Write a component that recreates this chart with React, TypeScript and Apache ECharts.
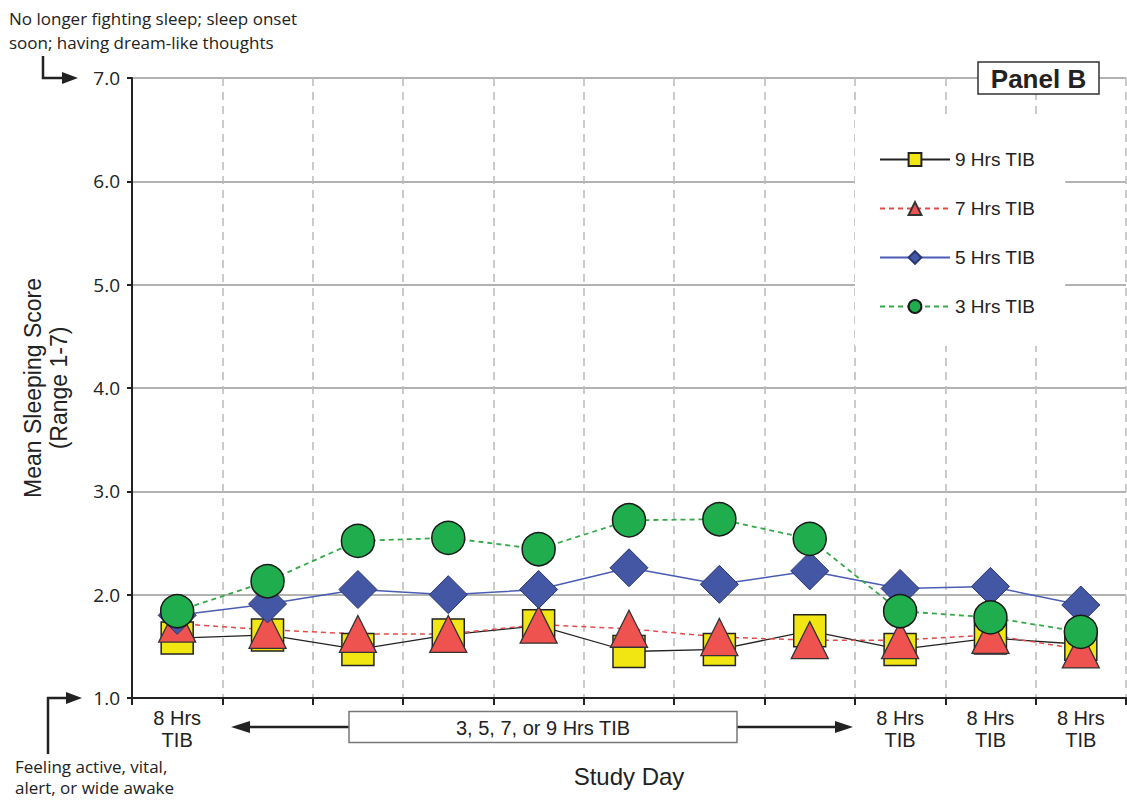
import React, { useEffect, useRef } from "react";
import * as echarts from "echarts";

const categories = ["8 Hrs\nTIB", "", "", "", "", "", "", "", "8 Hrs\nTIB", "8 Hrs\nTIB", "8 Hrs\nTIB"];
const hrs9 = [1.58, 1.61, 1.47, 1.61, 1.7, 1.45, 1.47, 1.65, 1.47, 1.58, 1.52];
const hrs7 = [1.72, 1.66, 1.62, 1.62, 1.71, 1.67, 1.59, 1.56, 1.56, 1.61, 1.47];
const hrs5 = [1.8, 1.91, 2.05, 2.0, 2.05, 2.26, 2.1, 2.23, 2.06, 2.08, 1.9];
const hrs3 = [1.84, 2.13, 2.52, 2.55, 2.44, 2.72, 2.73, 2.54, 1.84, 1.78, 1.64];
const yTicks = [1, 2, 3, 4, 5, 6, 7];

const SANS = "'Liberation Sans', Arial, sans-serif";
const HUM = "'Open Sans', 'Noto Sans', sans-serif";

export default function App() {
  const ref = useRef<HTMLDivElement>(null);
  useEffect(() => {
    if (!ref.current) return;
    const chart = echarts.init(ref.current, null, { renderer: "svg" });
    const option: any = {
      animation: false,
      backgroundColor: "#fff",
      textStyle: { fontFamily: SANS },
      grid: { left: 132, right: 1, top: 78, bottom: 105, containLabel: false, outerBoundsMode: "none" },
      legend: {
        orient: "vertical",
        left: 855,
        top: 120,
        padding: [30, 30, 30, 24],
        itemWidth: 70,
        itemHeight: 16,
        itemGap: 30,
        backgroundColor: "#fff",
        textStyle: { fontSize: 19, color: "#222", fontFamily: SANS },
        data: ["9 Hrs TIB", "7 Hrs TIB", "5 Hrs TIB", "3 Hrs TIB"],
      },
      xAxis: {
        type: "category",
        data: categories,
        boundaryGap: true,
        name: "Study Day",
        nameLocation: "middle",
        nameGap: 66,
        nameTextStyle: { fontSize: 24, color: "#222", fontFamily: SANS },
        axisLine: { lineStyle: { color: "#222", width: 2 } },
        axisTick: { show: true, length: 7, inside: false, lineStyle: { color: "#222", width: 2 } },
        axisLabel: { interval: 0, fontSize: 20, lineHeight: 22, color: "#222", margin: 9 },
        splitLine: { show: true, lineStyle: { color: "#bbb", type: [8, 6], width: 1.5 } },
      },
      yAxis: {
        type: "value",
        min: yTicks[0],
        max: yTicks[yTicks.length - 1],
        interval: 1,
        name: "Mean Sleeping Score\n(Range 1-7)",
        nameLocation: "middle",
        nameRotate: 90,
        nameGap: 60,
        nameTextStyle: { fontSize: 23, lineHeight: 26, color: "#222", fontFamily: SANS },
        axisLine: { show: true, lineStyle: { color: "#222", width: 2 } },
        axisTick: { show: true, length: 5, lineStyle: { color: "#222", width: 2 } },
        axisLabel: {
          fontSize: 19,
          color: "#222",
          margin: 12,
          fontFamily: HUM,
          formatter: (v: number) => v.toFixed(1),
        },
        splitLine: { show: true, lineStyle: { color: "#999", width: 1.5 } },
      },
      series: [
        {
          name: "9 Hrs TIB",
          type: "line",
          data: hrs9,
          symbol: "rect",
          symbolSize: 32,
          lineStyle: { color: "#222", width: 1.3 },
          itemStyle: { color: "#f2e612", borderColor: "#222", borderWidth: 1.5 },
        },
        {
          name: "7 Hrs TIB",
          type: "line",
          data: hrs7,
          symbol: "triangle",
          symbolSize: 37,
          lineStyle: { color: "#e34a4a", width: 1.5, type: [5, 4] },
          itemStyle: { color: "#ef5350", borderColor: "#333", borderWidth: 1.3 },
        },
        {
          name: "5 Hrs TIB",
          type: "line",
          data: hrs5,
          symbol: "diamond",
          symbolSize: 38,
          lineStyle: { color: "#4a5cb3", width: 1.5 },
          itemStyle: { color: "#4457a5", borderColor: "#2a3570", borderWidth: 1 },
        },
        {
          name: "3 Hrs TIB",
          type: "line",
          data: hrs3,
          symbol: "circle",
          symbolSize: 33,
          lineStyle: { color: "#36a84a", width: 1.8, type: [5, 4] },
          itemStyle: { color: "#1fad4e", borderColor: "#1a1a1a", borderWidth: 1.5 },
        },
      ],
      graphic: [
        {
          type: "text",
          left: 9,
          top: 6,
          style: {
            text: "No longer fighting sleep; sleep onset\nsoon; having dream-like thoughts",
            fontSize: 17,
            lineHeight: 24,
            fill: "#222",
            fontFamily: HUM,
          },
        },
        {
          type: "polyline",
          shape: { points: [[43, 56], [43, 78], [66, 78]] },
          style: { stroke: "#222", lineWidth: 2.5, fill: null },
        },
        { type: "polygon", shape: { points: [[62, 72], [78, 78], [62, 84]] }, style: { fill: "#222" } },
        {
          type: "polyline",
          shape: { points: [[48, 754], [48, 698], [68, 698]] },
          style: { stroke: "#222", lineWidth: 2.5, fill: null },
        },
        { type: "polygon", shape: { points: [[66, 692], [82, 698], [66, 704]] }, style: { fill: "#222" } },
        {
          type: "text",
          left: 15,
          top: 756,
          style: {
            text: "Feeling active, vital,\nalert, or wide awake",
            fontSize: 17,
            lineHeight: 21,
            fill: "#222",
            fontFamily: HUM,
          },
        },
        {
          type: "line",
          shape: { x1: 240, y1: 727, x2: 843, y2: 727 },
          style: { stroke: "#222", lineWidth: 2.5 },
        },
        { type: "polygon", shape: { points: [[231, 727], [250, 721], [250, 733]] }, style: { fill: "#222" } },
        { type: "polygon", shape: { points: [[853, 727], [835, 721], [835, 733]] }, style: { fill: "#222" } },
        {
          type: "rect",
          shape: { x: 349, y: 711.5, width: 388, height: 31 },
          style: { fill: "#fff", stroke: "#777", lineWidth: 1.5 },
        },
        {
          type: "text",
          x: 543,
          y: 728,
          style: {
            text: "3, 5, 7, or 9 Hrs TIB",
            fontSize: 20,
            fill: "#222",
            fontFamily: SANS,
            align: "center",
            verticalAlign: "middle",
          },
        },
        {
          type: "rect",
          z: 100,
          shape: { x: 978, y: 62, width: 121, height: 32 },
          style: { fill: "#fff", stroke: "#333", lineWidth: 1.5 },
        },
        {
          type: "text",
          z: 101,
          x: 1038.5,
          y: 78.5,
          style: {
            text: "Panel B",
            fontSize: 26,
            fontWeight: "bold",
            fill: "#222",
            fontFamily: SANS,
            align: "center",
            verticalAlign: "middle",
          },
        },
      ],
    };
    chart.setOption(option);
    return () => chart.dispose();
  }, []);
  return (
    <div
      ref={ref}
      style={{ position: "fixed", left: 0, top: 0, width: "1127px", height: "803px" }}
    />
  );
}
